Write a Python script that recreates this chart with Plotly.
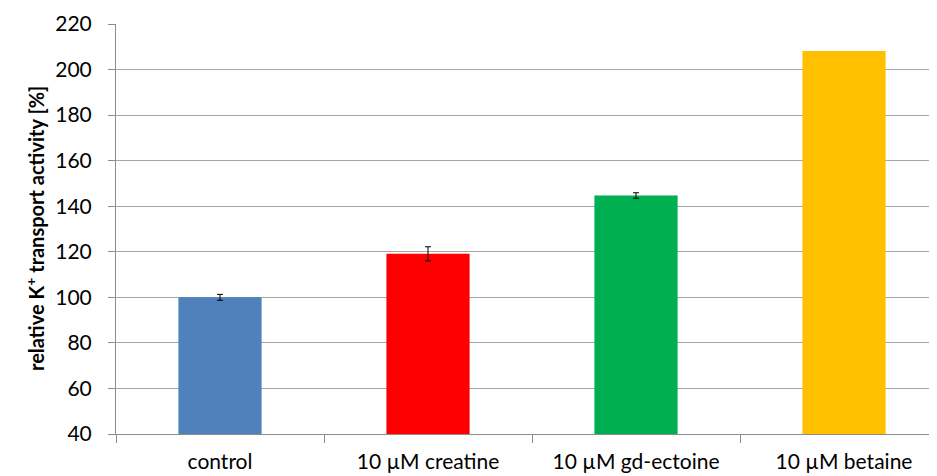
import plotly.graph_objects as go

categories = ["control", "10 µM creatine", "10 µM gd-ectoine", "10 µM betaine"]
values = [100, 119.1, 144.7, 208.2]
errors = [1.3, 3.1, 1.2]  # betaine shows no error bar
colors = ["#4F81BD", "#FF0000", "#00B050", "#FFC000"]
y_ticks = [40, 60, 80, 100, 120, 140, 160, 180, 200, 220]

font_family = "Lato, 'Open Sans', sans-serif"

fig = go.Figure()
fig.add_trace(go.Bar(
    x=categories, y=values,
    marker=dict(color=colors, line=dict(width=0)),
    width=0.4,
))
fig.add_trace(go.Scatter(
    x=categories[:len(errors)], y=values[:len(errors)],
    mode="markers", marker=dict(size=1, opacity=0),
    error_y=dict(type="data", array=errors, visible=True, color="black", thickness=1, width=3),
    hoverinfo="skip",
))

W, H = 929, 468
fig.update_layout(
    width=W, height=H,
    margin=dict(l=108, r=0, t=16, b=42),
    plot_bgcolor="white", paper_bgcolor="white",
    font=dict(family=font_family, size=21, color="black"),
    showlegend=False,
)
fig.update_yaxes(
    range=[40, 220], tickvals=y_ticks,
    showgrid=True, gridcolor="#A6A6A6", gridwidth=1,
    showline=True, linecolor="#8C8C8C", linewidth=1,
    ticks="outside", ticklen=7, tickcolor="#8C8C8C",
    ticklabelstandoff=12,
    zeroline=False, automargin=False,
)
# the reference's plot area runs slightly past the right edge of the image
fig.update_xaxes(
    range=[-0.5, 3.447],
    showline=True, linecolor="#8C8C8C", linewidth=1,
    ticks="outside", ticklen=8, tickcolor="#8C8C8C", tickson="boundaries",
    ticklabelstandoff=9,
    showgrid=False, automargin=False,
)
fig.add_annotation(
    text="<b>relative K<sup>+</sup> transport activity [%]</b>",
    xref="paper", yref="paper", x=(27 - 108) / (W - 108), y=0.5,
    textangle=-90, showarrow=False, font=dict(size=20),
    xanchor="center", yanchor="middle",
)

fig.write_html("out.html")
